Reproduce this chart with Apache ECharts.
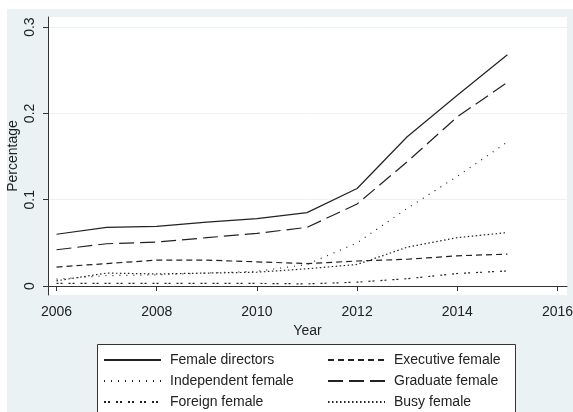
<!DOCTYPE html>
<html>
<head>
<meta charset="utf-8">
<script src="https://cdn.jsdelivr.net/npm/echarts@6/dist/echarts.min.js"></script>
<style>
  html, body { margin: 0; padding: 0; background: #fff; }
  #chart { width: 573px; height: 412px; }
</style>
</head>
<body>
<div id="chart"></div>
<script>
// values, 2006-2015
const years = [2006, 2007, 2008, 2009, 2010, 2011, 2012, 2013, 2014, 2015];
const femaleDirectors = [0.060, 0.068, 0.069, 0.074, 0.078, 0.085, 0.113, 0.173, 0.221, 0.268];
const executiveFemale = [0.022, 0.026, 0.030, 0.030, 0.028, 0.026, 0.029, 0.031, 0.035, 0.037];
const independentFemale = [0.008, 0.012, 0.013, 0.015, 0.017, 0.025, 0.050, 0.090, 0.127, 0.167];
const graduateFemale = [0.042, 0.049, 0.051, 0.056, 0.061, 0.068, 0.095, 0.144, 0.196, 0.236];
const foreignFemale = [0.003, 0.003, 0.003, 0.003, 0.003, 0.0025, 0.0045, 0.0085, 0.0145, 0.0175];
const busyFemale = [0.006, 0.015, 0.014, 0.015, 0.016, 0.020, 0.025, 0.045, 0.056, 0.062];

const xTicks = [2006, 2008, 2010, 2012, 2014, 2016];
const yTicks = [0, 0.1, 0.2, 0.3];

const font = "'Liberation Sans', Arial, sans-serif";
const ink = '#222';

const chart = echarts.init(document.getElementById('chart'));

function pairs(vals) {
  return years.map((y, i) => [y, vals[i]]);
}

function line(name, vals, type) {
  return {
    name: name,
    type: 'line',
    data: pairs(vals),
    symbol: 'none',
    smooth: false,
    animation: false,
    lineStyle: { color: ink, width: 1.2, type: type },
    itemStyle: { color: ink },
  };
}

const legendBase = {
  orient: 'vertical',
  top: 353,
  padding: 0,
  itemWidth: 57,
  itemHeight: 14,
  itemGap: 7,
  itemStyle: { opacity: 0 },
  textStyle: { fontFamily: font, fontSize: 14, color: ink, padding: [0, 0, 0, 4] },
};

const option = {
  backgroundColor: 'transparent',
  animation: false,
  graphic: {
    elements: [
      {
        type: 'rect',
        z: -10,
        shape: { x: 7, y: 9, width: 566, height: 403 },
        style: { fill: '#eaf2f3' },
      },
      {
        type: 'rect',
        z: 1,
        shape: { x: 97.5, y: 344.5, width: 418, height: 80 },
        style: { fill: '#fff', stroke: '#333', lineWidth: 1 },
      },
    ],
  },
  grid: {
    left: 48,
    right: 6,
    top: 17,
    bottom: 117,
    outerBoundsMode: 'none',
    containLabel: false,
    show: true,
    backgroundColor: '#fff',
    borderWidth: 0,
  },
  legend: [
    Object.assign({}, legendBase, {
      left: 103,
      data: ['Female directors', 'Independent female', 'Foreign female'],
    }),
    Object.assign({}, legendBase, {
      left: 327,
      data: ['Executive female', 'Graduate female', 'Busy female'],
    }),
  ],
  xAxis: {
    type: 'value',
    min: 2005.83,
    max: 2016.19,
    name: 'Year',
    nameLocation: 'middle',
    nameGap: 26,
    nameTextStyle: { fontFamily: font, fontSize: 14, color: ink },
    axisLine: { show: true, lineStyle: { color: '#333', width: 1 } },
    axisTick: { show: true, length: 5, lineStyle: { color: '#333' }, customValues: xTicks },
    axisLabel: {
      fontFamily: font, fontSize: 14, color: ink, margin: 10,
      customValues: xTicks,
      formatter: (v) => String(v),
    },
    splitLine: { show: false },
  },
  yAxis: {
    type: 'value',
    min: -0.0104,
    max: 0.3117,
    name: 'Percentage',
    nameLocation: 'middle',
    nameRotate: 90,
    nameGap: 28,
    nameMoveOverlap: false,
    nameTextStyle: { fontFamily: font, fontSize: 14, color: ink },
    axisLine: { show: true, lineStyle: { color: '#333', width: 1 } },
    axisTick: { show: true, length: 5, lineStyle: { color: '#333' }, customValues: yTicks },
    axisLabel: {
      fontFamily: font, fontSize: 14, color: ink, rotate: 90, margin: 11,
      customValues: yTicks,
      formatter: (v) => (v === 0 ? '0' : String(Math.round(v * 10) / 10)),
    },
    splitLine: { show: true, lineStyle: { color: '#eaf2f3', width: 1 }, customValues: yTicks },
  },
  series: [
    line('Female directors', femaleDirectors, 'solid'),
    line('Executive female', executiveFemale, [6, 4]),
    line('Independent female', independentFemale, [1, 6]),
    line('Graduate female', graduateFemale, [15, 6]),
    line('Foreign female', foreignFemale, [2, 2, 2, 6]),
    line('Busy female', busyFemale, [1.5, 2.5]),
  ],
};

chart.setOption(option);
</script>
</body>
</html>
